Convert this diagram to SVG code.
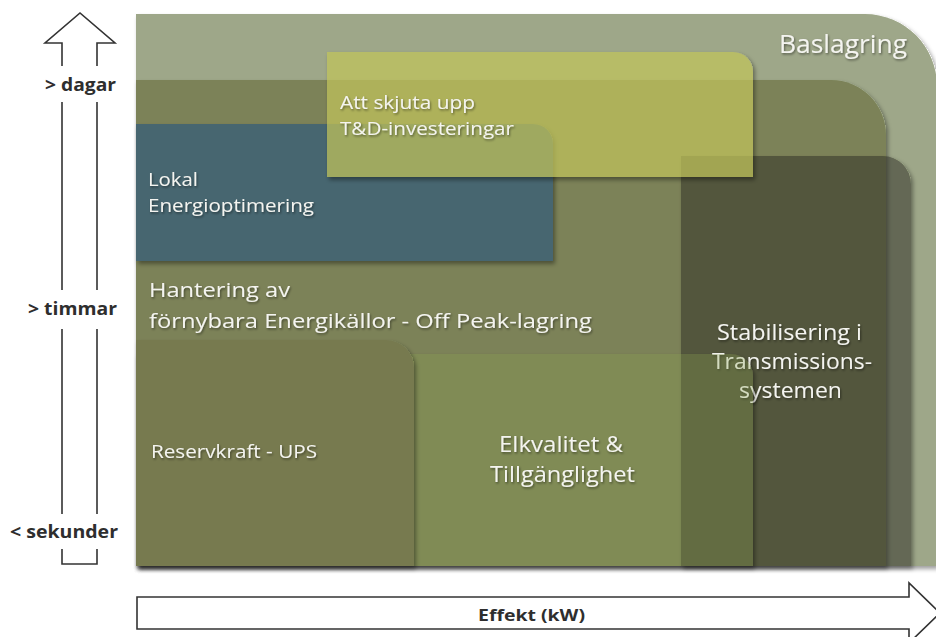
<svg xmlns="http://www.w3.org/2000/svg" width="936" height="637" viewBox="0 0 936 637">
  <defs>
    <!-- shadow drawn only outside the shape, so translucent fills stay clean -->
    <filter id="shadow" x="-5%" y="-5%" width="115%" height="115%">
      <feComponentTransfer in="SourceAlpha" result="solid">
        <feFuncA type="linear" slope="20"/>
      </feComponentTransfer>
      <feGaussianBlur in="solid" stdDeviation="2"/>
      <feOffset dx="2" dy="3" result="blur"/>
      <feComposite in="blur" in2="solid" operator="out" result="outer"/>
      <feFlood flood-color="#000" flood-opacity="0.38"/>
      <feComposite in2="outer" operator="in" result="sh"/>
      <feMerge>
        <feMergeNode in="sh"/>
        <feMergeNode in="SourceGraphic"/>
      </feMerge>
    </filter>
    <filter id="tshadow" x="-5%" y="-20%" width="115%" height="150%">
      <feDropShadow dx="1" dy="1.5" stdDeviation="1.2" flood-color="#000" flood-opacity="0.45"/>
    </filter>
  </defs>
  <style>
    .lbl { font-family: "Open Sans", "Liberation Sans", sans-serif; fill: #f4f4f0; filter: url(#tshadow); }
    .axis { font-family: "Open Sans", "Liberation Sans", sans-serif; font-weight: bold; fill: #2e2e2e; }
    .axisline { fill: none; stroke: #333; stroke-width: 1.6; }
    .box { filter: url(#shadow); }
  </style>

  <rect width="936" height="637" fill="#ffffff"/>

  <!-- vertical time axis -->
  <g id="time-axis">
    <path class="axisline" d="M62 66 V43 H45 L80 13 L115 43 H97 V66"/>
    <path class="axisline" d="M62 102 V290 M97 102 V290"/>
    <path class="axisline" d="M62 329 V514 M97 329 V514"/>
    <path class="axisline" d="M62 549 V564 H97 V549"/>
    <text class="axis" x="45" y="91" font-size="18" textLength="71" lengthAdjust="spacingAndGlyphs">&gt; dagar</text>
    <text class="axis" x="28" y="315" font-size="18" textLength="89" lengthAdjust="spacingAndGlyphs">&gt; timmar</text>
    <text class="axis" x="10" y="538" font-size="18" textLength="108" lengthAdjust="spacingAndGlyphs">&lt; sekunder</text>
  </g>

  <!-- horizontal power axis -->
  <g id="power-axis">
    <path class="axisline" d="M137 597 H909 V583 L940 613 L909 643 V629 H137 Z" style="fill:#fff"/>
    <text class="axis" x="478" y="621" font-size="16" textLength="107" lengthAdjust="spacingAndGlyphs">Effekt (kW)</text>
  </g>

  <!-- application areas, back to front -->
  <g id="baslagring">
    <path class="box" fill="#9ea789" d="M136 14 H865 A72 72 0 0 1 937 86 V566 H136 Z"/>
    <text class="lbl" x="779" y="53" font-size="25" textLength="128" lengthAdjust="spacingAndGlyphs">Baslagring</text>
  </g>

  <g id="off-peak">
    <path class="box" fill="#7b8258" d="M136 80 H831 A55 55 0 0 1 886 135 V566 H136 Z"/>
    <text class="lbl" x="149" y="297" font-size="20" textLength="141" lengthAdjust="spacingAndGlyphs">Hantering av</text>
    <text class="lbl" x="149" y="328" font-size="20" textLength="443" lengthAdjust="spacingAndGlyphs">förnybara Energikällor - Off Peak-lagring</text>
  </g>

  <g id="lokal">
    <path class="box" fill="#476670" d="M136 124 H533 A20 20 0 0 1 553 144 V261 H136 Z"/>
    <text class="lbl" x="148" y="186" font-size="18.5" textLength="50" lengthAdjust="spacingAndGlyphs">Lokal</text>
    <text class="lbl" x="148" y="212" font-size="18.5" textLength="166" lengthAdjust="spacingAndGlyphs">Energioptimering</text>
  </g>

  <g id="stabilisering">
    <path class="box" fill="#2a2b20" fill-opacity="0.5" d="M681 156 H883 A28 28 0 0 1 911 184 V566 H681 Z"/>
    <text class="lbl" x="717" y="340" font-size="21" textLength="145" lengthAdjust="spacingAndGlyphs">Stabilisering i</text>
    <text class="lbl" x="712" y="369" font-size="21" textLength="160" lengthAdjust="spacingAndGlyphs">Transmissions-</text>
    <text class="lbl" x="739" y="398" font-size="21" textLength="103" lengthAdjust="spacingAndGlyphs">systemen</text>
  </g>

  <g id="td-investeringar">
    <path class="box" fill="#c0c35c" fill-opacity="0.72" d="M327 52 H733 A20 20 0 0 1 753 72 V177 H327 Z"/>
    <text class="lbl" x="340" y="109" font-size="18" textLength="135" lengthAdjust="spacingAndGlyphs">Att skjuta upp</text>
    <text class="lbl" x="340" y="135" font-size="18" textLength="174" lengthAdjust="spacingAndGlyphs">T&amp;D-investeringar</text>
  </g>

  <g id="elkvalitet">
    <path class="box" fill="#88a04c" fill-opacity="0.3" d="M136 354 H731 A22 22 0 0 1 753 376 V566 H136 Z"/>
    <text class="lbl" x="499" y="452" font-size="21" textLength="124" lengthAdjust="spacingAndGlyphs">Elkvalitet &amp;</text>
    <text class="lbl" x="490" y="482" font-size="21" textLength="145" lengthAdjust="spacingAndGlyphs">Tillgänglighet</text>
  </g>

  <g id="reservkraft">
    <path class="box" fill="#777a50" d="M136 340 H386 A28 28 0 0 1 414 368 V566 H136 Z"/>
    <text class="lbl" x="151" y="458" font-size="18" textLength="166" lengthAdjust="spacingAndGlyphs">Reservkraft - UPS</text>
  </g>
</svg>
